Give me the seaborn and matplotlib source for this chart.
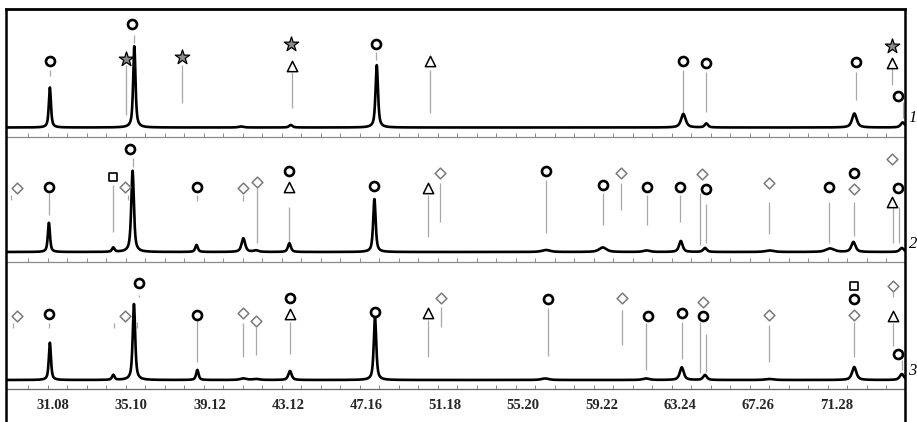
import numpy as np
import pandas as pd
import matplotlib
matplotlib.use("Agg")
import matplotlib.pyplot as plt
from matplotlib.lines import Line2D
import seaborn as sns

sns.set_style("white")
plt.rcParams["font.family"] = ["Liberation Serif", "DejaVu Serif"]

# ---- diffraction profiles: peak position (2theta), intensity, width ----
p1_peak_pos = [30.94, 35.27, 40.74, 43.29, 47.70, 63.42, 64.60, 72.19, 74.67]
p1_peak_int = [40.0, 81.5, 1.0, 2.5, 62.5, 13.5, 4.0, 14.0, 5.0]
p1_peak_fwhm = [0.13, 0.14, 0.30, 0.20, 0.15, 0.28, 0.20, 0.28, 0.25]

p2_peak_pos = [30.89, 34.19, 35.18, 38.46, 40.86, 41.51, 43.22, 47.58, 56.38,
               59.29, 61.54, 63.29, 64.53, 67.83, 70.94, 72.14, 74.62]
p2_peak_int = [29.3, 4.3, 81.3, 7.0, 13.7, 1.5, 8.7, 53.0, 2.0,
               4.5, 1.5, 11.0, 4.0, 1.5, 3.5, 10.0, 4.0]
p2_peak_fwhm = [0.13, 0.15, 0.16, 0.16, 0.22, 0.30, 0.18, 0.15, 0.50,
                0.45, 0.40, 0.22, 0.22, 0.50, 0.50, 0.25, 0.25]

p3_peak_pos = [30.94, 34.19, 35.25, 38.50, 40.86, 41.51, 43.25, 47.61, 56.33,
               61.51, 63.34, 64.53, 67.83, 72.18, 74.62]
p3_peak_int = [37.3, 5.0, 76.0, 10.0, 1.5, 1.0, 9.0, 63.3, 1.5,
               1.5, 12.7, 5.0, 1.0, 13.0, 6.0]
p3_peak_fwhm = [0.13, 0.15, 0.15, 0.15, 0.40, 0.40, 0.20, 0.15, 0.45,
                0.40, 0.24, 0.22, 0.50, 0.26, 0.25]

# ---- reference (stick) lines: position, lower end, upper end ----
p1_stick_x = [30.94, 34.83, 35.25, 37.73, 43.34, 47.65, 50.43, 63.42, 64.58, 72.27, 74.10, 74.67]
p1_stick_lo = [51.5, 12.5, 84.5, 24.5, 19.5, 67.5, 14.5, 14.5, 15.5, 27.5, 42.5, 9.5]
p1_stick_hi = [57.5, 62.5, 92.5, 62.5, 55.5, 75.5, 57.5, 57.5, 55.5, 55.5, 59.5, 25.5]

p2_stick_x = [28.94, 30.89, 34.19, 34.96, 35.18, 38.46, 40.86, 41.55, 43.22, 50.34, 50.94,
              56.38, 59.32, 60.21, 61.57, 63.26, 64.28, 64.57, 67.83, 70.89, 72.19, 74.18, 74.48]
p2_stick_lo = [52, 37, 20.3, 52, 85.3, 51, 51, 8.7, 8.7, 15.3, 30.3,
               19.3, 27, 42, 27, 30.3, 7, 8.7, 18, 8.7, 16, 9.3, 9.3]
p2_stick_hi = [57, 58.7, 67, 57, 94, 57, 57, 63.7, 45.3, 57, 68.7,
               72, 58.7, 68.7, 57, 57, 58.7, 48, 50.3, 50.3, 50.3, 45.3, 45.3]

p3_stick_x = [29.03, 30.89, 34.21, 35.39, 35.52, 38.50, 40.86, 41.51, 43.27, 50.34, 50.98,
              56.50, 60.26, 61.51, 63.34, 64.28, 64.57, 67.83, 72.19, 74.18, 74.15, 74.62]
p3_stick_lo = [52, 52, 52, 52, 83, 18.3, 23.3, 25, 25.7, 23.3, 53.3,
               24.3, 35, 10, 21, 6.7, 8.3, 17.7, 23.3, 83.3, 34.3, 10]
p3_stick_hi = [57, 57, 57, 58.5, 85.5, 60, 56.7, 53.3, 58.3, 60, 73.3,
               71.7, 70, 56.7, 58.3, 58.3, 45.7, 55, 58.3, 88.3, 56.7, 20]

# ---- phase symbols ----
p1_circle_x = [30.94, 35.17, 47.65, 63.42, 64.58, 72.27, 74.41]
p1_circle_y = [66.5, 103.2, 83.5, 66.8, 64.8, 65.2, 31.8]
p1_star_x = [34.83, 37.73, 43.29, 74.10]
p1_star_y = [68.5, 70.8, 83.5, 81.5]
p1_triangle_x = [43.34, 50.43, 74.10]
p1_triangle_y = [61.5, 66.5, 64.8]

p2_circle_x = [30.89, 35.03, 38.46, 43.22, 47.58, 56.38, 59.32, 61.57, 63.26, 64.57, 70.89, 72.19, 74.41]
p2_circle_y = [65.3, 103.0, 65.3, 81.3, 66.0, 81.3, 67.0, 64.7, 65.3, 63.0, 64.7, 79.3, 63.7]
p2_diamond_x = [29.24, 34.81, 40.86, 41.55, 50.94, 60.21, 64.40, 67.83, 72.19, 74.10]
p2_diamond_y = [63.7, 65.3, 63.7, 70.3, 78.7, 78.7, 78.0, 68.7, 63.3, 92.7]
p2_triangle_x = [43.22, 50.34, 74.13]
p2_triangle_y = [64.7, 63.7, 50.3]
p2_square_x = [34.19]
p2_square_y = [75.3]

p3_circle_x = [30.89, 35.52, 38.50, 43.27, 47.61, 56.50, 61.59, 63.34, 64.45, 72.19, 74.43]
p3_circle_y = [66.0, 96.7, 65.0, 81.7, 68.3, 80.7, 64.3, 66.7, 64.3, 80.7, 26.0]
p3_diamond_x = [29.24, 34.81, 40.86, 41.51, 50.98, 60.26, 64.45, 67.83, 72.19, 74.18]
p3_diamond_y = [64.3, 64.0, 66.7, 59.3, 82.3, 81.7, 77.7, 65.0, 65.0, 94.3]
p3_triangle_x = [43.27, 50.34, 74.15]
p3_triangle_y = [66.0, 66.7, 64.0]
p3_square_x = [72.19]
p3_square_y = [94.0]

tick_labels = ["31.08", "35.10", "39.12", "43.12", "47.16", "51.18",
               "55.20", "59.22", "63.24", "67.26", "71.28"]
panel_names = ["1", "2", "3"]

X_MIN, X_MAX = 28.70, 74.80


def pattern(x, pos, amp, fwhm, eta=0.7):
    y = np.zeros_like(x)
    for p, a, w in zip(pos, amp, fwhm):
        d = (x - p) / w
        lor = 1.0 / (1.0 + 4.0 * d ** 2)
        gau = np.exp(-4.0 * np.log(2.0) * d ** 2)
        y += a * (eta * lor + (1.0 - eta) * gau)
    return y


W, H = 917, 422
fig = plt.figure(figsize=(W / 100, H / 100), dpi=100)

left_px, right_px = 6.2, 905.3
panels = [
    dict(top=8.7, bottom=136.5, ylim=(-9.0, 118.8),
         peaks=(p1_peak_pos, p1_peak_int, p1_peak_fwhm),
         sticks=(p1_stick_x, p1_stick_lo, p1_stick_hi),
         circle=(p1_circle_x, p1_circle_y), star=(p1_star_x, p1_star_y),
         triangle=(p1_triangle_x, p1_triangle_y), diamond=None, square=None),
    dict(top=136.5, bottom=262.0, ylim=(-10.0, 115.5),
         peaks=(p2_peak_pos, p2_peak_int, p2_peak_fwhm),
         sticks=(p2_stick_x, p2_stick_lo, p2_stick_hi),
         circle=(p2_circle_x, p2_circle_y), star=None,
         triangle=(p2_triangle_x, p2_triangle_y),
         diamond=(p2_diamond_x, p2_diamond_y), square=(p2_square_x, p2_square_y)),
    dict(top=262.0, bottom=389.0, ylim=(-9.0, 118.0),
         peaks=(p3_peak_pos, p3_peak_int, p3_peak_fwhm),
         sticks=(p3_stick_x, p3_stick_lo, p3_stick_hi),
         circle=(p3_circle_x, p3_circle_y), star=None,
         triangle=(p3_triangle_x, p3_triangle_y),
         diamond=(p3_diamond_x, p3_diamond_y), square=(p3_square_x, p3_square_y)),
]

symbol_style = {
    "diamond": dict(marker="D", s=30, facecolor="white", edgecolor="#7a7a7a", linewidth=1.1),
    "triangle": dict(marker="^", s=55, facecolor="white", edgecolor="black", linewidth=1.1),
    "square": dict(marker="s", s=34, facecolor="white", edgecolor="black", linewidth=1.2),
    "star": dict(marker="*", s=120, facecolor="#8c8c8c", edgecolor="black", linewidth=0.9),
    "circle": dict(marker="o", s=42, facecolor="white", edgecolor="black", linewidth=1.9),
}

minor_ticks = [29.83 + k for k in range(45)]
label_pos = [31.08 + 4.02 * k for k in range(len(tick_labels))]
x_grid = np.linspace(X_MIN, X_MAX, 5000)

axes = []
for i, pnl in enumerate(panels):
    ax = fig.add_axes([left_px / W, 1 - pnl["bottom"] / H,
                       (right_px - left_px) / W, (pnl["bottom"] - pnl["top"]) / H])
    axes.append(ax)
    pos, amp, fw = pnl["peaks"]
    df = pd.DataFrame({"two_theta": x_grid, "intensity": pattern(x_grid, pos, amp, fw)})
    sns.lineplot(data=df, x="two_theta", y="intensity", ax=ax, color="black",
                 linewidth=1.9, estimator=None, sort=False, zorder=3)

    sx, slo, shi = pnl["sticks"]
    ax.vlines(sx, slo, shi, colors="#a8a8a8", linewidth=0.9, zorder=2)

    for kind, st in symbol_style.items():
        pts = pnl[kind]
        if pts is None:
            continue
        sns.scatterplot(x=pts[0], y=pts[1], ax=ax, zorder=5, clip_on=False,
                        legend=False, **st)

    ax.set_xlim(X_MIN, X_MAX)
    ax.set_ylim(*pnl["ylim"])
    ax.set_xlabel("")
    ax.set_ylabel("")
    ax.set_yticks([])
    ax.set_xticks(label_pos)
    ax.set_xticks(minor_ticks, minor=True)
    ax.tick_params(axis="x", which="major", length=0, pad=7)
    ax.tick_params(axis="x", which="minor", direction="in", length=3.2,
                   width=0.7, color="#8a8a8a", bottom=True)
    if i == 2:
        ax.set_xticklabels(tick_labels, fontsize=10.5, fontweight="bold")
    else:
        ax.set_xticklabels([])
    for side in ("left", "right", "top"):
        ax.spines[side].set_visible(False)
    ax.spines["bottom"].set_color("#8a8a8a" if i < 2 else "#666666")
    ax.spines["bottom"].set_linewidth(0.9)
    ax.patch.set_alpha(0)

    base_y = 1 - (pnl["bottom"] - 10) / H
    fig.text(908.5 / W, base_y, panel_names[i], fontsize=12, fontstyle="italic",
             ha="left", va="bottom", color="black")

# outer frame: heavy left, right and top borders
fy_top = 1 - 8.7 / H
fig.add_artist(Line2D([left_px / W, left_px / W], [0, fy_top], color="black", lw=1.8))
fig.add_artist(Line2D([right_px / W, right_px / W], [0, fy_top], color="black", lw=1.8))
fig.add_artist(Line2D([left_px / W, right_px / W], [fy_top, fy_top], color="black",
                      lw=2.0, solid_capstyle="projecting"))

fig.savefig("out.png", dpi=100)
